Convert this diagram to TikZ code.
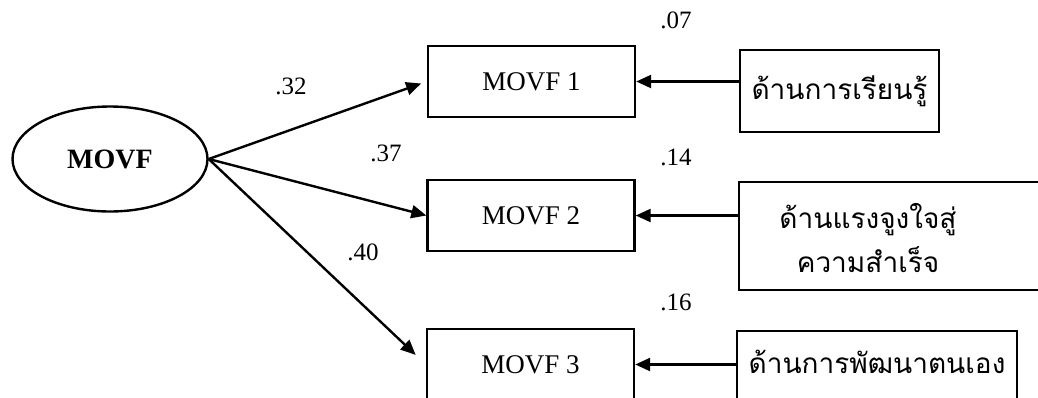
\documentclass[tikz,border=0pt]{standalone}
\usepackage{fontspec}
\setmainfont{Liberation Serif}
\newfontfamily\thaifont[Script=Thai]{Loma}
\usetikzlibrary{shapes.geometric,arrows.meta}
\begin{document}
\begin{tikzpicture}[x=0.5pt,y=-0.5pt,
  line width=1.2pt,
  arr/.style={-{Triangle[length=7.5pt,width=6.5pt]}},
  obsbox/.style={draw,rectangle,minimum width=103.5pt,minimum height=35.5pt,inner sep=0pt,font=\fontsize{13.5}{15}\selectfont},
  srcbox/.style={draw,rectangle,inner sep=0pt},
  thai/.style={font=\thaifont\fontsize{14}{20}\selectfont,align=center},
  coef/.style={font=\fontsize{12.5}{14}\selectfont,inner sep=0pt}]
\useasboundingbox (0,0) rectangle (1038,397);
\clip (0,0) rectangle (1038,397);

% latent factor
\node[draw,ellipse,minimum width=97.5pt,minimum height=52.5pt,inner sep=0pt,
      font=\bfseries\fontsize{14}{16}\selectfont] (m) at (110,159) {MOVF};

% indicators
\node[obsbox] (b1) at (531.5,81.5) {MOVF 1};
\node[obsbox] (b2) at (531,215.5) {MOVF 2};
\node[obsbox] (b3) at (530.5,364.5) {MOVF 3};

% error sources
\node[srcbox,minimum width=99.5pt,minimum height=41pt] (r1) at (839.5,91) {};
\node[thai] (t1) at (r1) {ด้านการเรียนรู้};
\node[srcbox,minimum width=180pt,minimum height=54pt] (r2) at (919,236) {};
\node[thai] (t2) at (868,238) {ด้านแรงจูงใจสู่\\[2pt]ความสำเร็จ};
\node[srcbox,minimum width=140pt,minimum height=40pt] (r3) at (877,371) {};
\node[thai] (t3) at (877,362) {ด้านการพัฒนาตนเอง};

% loadings
\draw[arr,shorten >=3pt] (m.east) -- (b1.west);
\draw[arr] (m.east) -- (b2.west);
\draw[arr,shorten >=7pt] (m.east) -- (b3.west);

% error paths
\draw[arr] (r1.west |- b1.east) -- (b1.east);
\draw[arr] (r2.west |- b2.east) -- (b2.east);
\draw[arr] (r3.west |- b3.east) -- (b3.east);

% coefficients
\node[coef] (c1) at (291,86) {.32};
\node[coef] (c2) at (386,153) {.37};
\node[coef] (c3) at (363,252) {.40};
\node[coef] (e1) at (676,20) {.07};
\node[coef] (e2) at (676,157) {.14};
\node[coef] (e3) at (676,302) {.16};
\end{tikzpicture}
\end{document}
